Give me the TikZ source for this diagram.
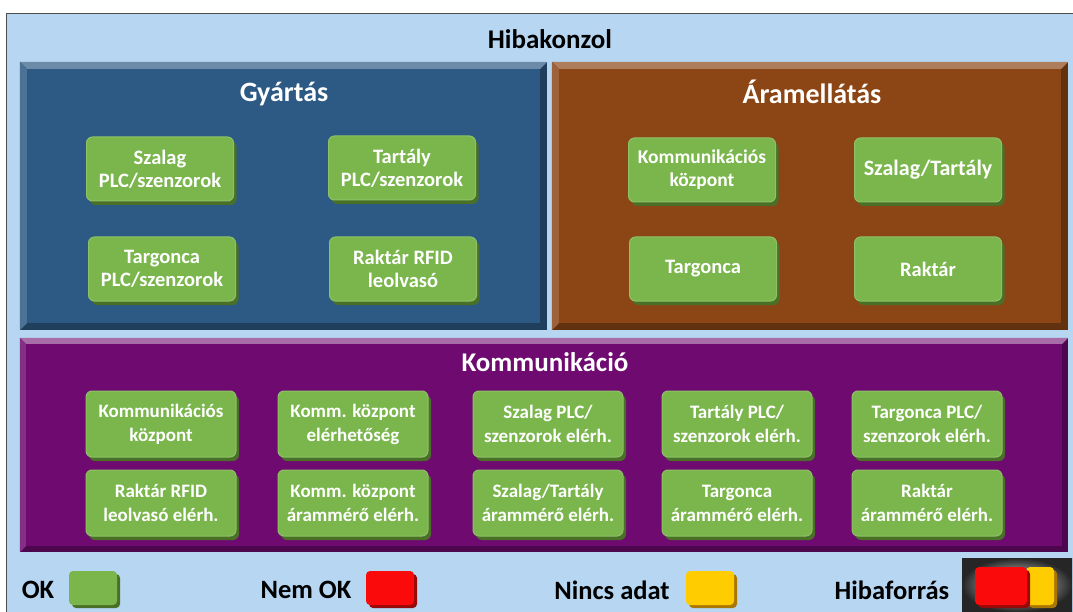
\documentclass[tikz,border=0pt]{standalone}
\usepackage{fontspec}
\setmainfont{Carlito}
\usetikzlibrary{shadows}
\definecolor{bgblue}{RGB}{182,214,242}
\definecolor{panblue}{RGB}{44,90,132}
\definecolor{panbrown}{RGB}{140,70,22}
\definecolor{panpurple}{RGB}{110,10,112}
\definecolor{okgreen}{RGB}{122,182,76}
\definecolor{okshadow}{RGB}{74,112,40}
\definecolor{nokred}{RGB}{250,10,10}
\definecolor{redshadow}{RGB}{150,10,10}
\definecolor{noyellow}{RGB}{255,204,0}
\definecolor{yelshadow}{RGB}{170,120,0}
\tikzset{
  panel/.style={draw=none, rectangle, inner sep=0pt},
  ptitle/.style={text=white, font=\bfseries\fontsize{28}{32}\selectfont},
  gbox/.style={rectangle, rounded corners=6pt, fill=okgreen, draw=okgreen!85!white, line width=1pt,
    minimum width=147pt, minimum height=64pt, align=center, text=white, inner sep=1pt,
    font=\bfseries\fontsize{20.5}{23}\selectfont,
    drop shadow={shadow xshift=3pt, shadow yshift=-4pt, fill=okshadow, opacity=1}},
  lsq/.style={rectangle, rounded corners=4pt, minimum width=48pt, minimum height=34pt, inner sep=0pt},
  ltext/.style={font=\bfseries\fontsize{26.5}{30}\selectfont, text=black},
}
\begin{document}
\begin{tikzpicture}[x=1pt,y=-1pt]
\useasboundingbox (0,0) rectangle (1073,612);
\fill[white] (0,0) rectangle (1073,612);
% outer
\node[panel, fill=bgblue, draw=black!70, line width=1pt, minimum width=1072pt, minimum height=600pt] (outer) at (542,314) {};
\node[font=\bfseries\fontsize{27}{30}\selectfont] (title) at (550,39) {Hibakonzol};
% panels
\node[panel, fill=panblue!70!black, minimum width=527pt, minimum height=268pt] (gy) at (283.5,196) {};
\fill[panblue!70!white] (gy.north west) -- (gy.north east) -- ([shift={(-7,7)}]gy.north east) -- ([shift={(7,7)}]gy.north west) -- cycle;
\fill[panblue!85!white] (gy.north west) -- ([shift={(7,7)}]gy.north west) -- ([shift={(7,-7)}]gy.south west) -- (gy.south west) -- cycle;
\fill[panblue] ([shift={(7,7)}]gy.north west) rectangle ([shift={(-7,-7)}]gy.south east);
\node[ptitle] (gyt) at (284,94) {Gyártás};

\node[panel, fill=panbrown!70!black, minimum width=516pt, minimum height=268pt] (ar) at (810,196) {};
\fill[panbrown!70!white] (ar.north west) -- (ar.north east) -- ([shift={(-7,7)}]ar.north east) -- ([shift={(7,7)}]ar.north west) -- cycle;
\fill[panbrown!85!white] (ar.north west) -- ([shift={(7,7)}]ar.north west) -- ([shift={(7,-7)}]ar.south west) -- (ar.south west) -- cycle;
\fill[panbrown] ([shift={(7,7)}]ar.north west) rectangle ([shift={(-7,-7)}]ar.south east);
\node[ptitle] (art) at (812,92) {Áramellátás};

\node[panel, fill=panpurple!70!black, minimum width=1048pt, minimum height=214pt] (ko) at (544,445) {};
\fill[panpurple!60!white] (ko.north west) -- (ko.north east) -- ([shift={(-6,6)}]ko.north east) -- ([shift={(6,6)}]ko.north west) -- cycle;
\fill[panpurple!85!white] (ko.north west) -- ([shift={(6,6)}]ko.north west) -- ([shift={(6,-6)}]ko.south west) -- (ko.south west) -- cycle;
\fill[panpurple] ([shift={(6,6)}]ko.north west) rectangle ([shift={(-6,-6)}]ko.south east);
\node[ptitle, font=\bfseries\fontsize{27}{30}\selectfont] (kot) at (545,362) {Kommunikáció};

% Gyartas boxes
\node[gbox] (g1) at (160,169) {Szalag\\PLC/szenzorok};
\node[gbox] (g2) at (402,168) {Tartály\\PLC/szenzorok};
\node[gbox] (g3) at (162,269) {Targonca\\PLC/szenzorok};
\node[gbox] (g4) at (403,269) {Raktár RFID\\leolvasó};
% Aramellatas boxes
\node[gbox, font=\bfseries\fontsize{19.5}{23}\selectfont] (a1) at (702,170) {Kommunikációs\\központ};
\node[gbox, font=\bfseries\fontsize{22}{25}\selectfont] (a2) at (928,170) {Szalag/Tartály};
\node[gbox] (a3) at (703,269) {Targonca};
\node[gbox] (a4) at (928,269) {Raktár};
% Kommunikacio boxes
\tikzset{kbox/.style={gbox, minimum width=150pt, minimum height=66pt, font=\bfseries\fontsize{19}{24}\selectfont}}
\node[kbox] (k1) at (161,424) {Kommunikációs\\központ};
\node[kbox] (k2) at (353,424) {Komm. központ\\elérhetőség};
\node[kbox] (k3) at (548,424) {Szalag PLC/\\szenzorok elérh.};
\node[kbox] (k4) at (737,424) {Tartály PLC/\\szenzorok elérh.};
\node[kbox] (k5) at (927,424) {Targonca PLC/\\szenzorok elérh.};
\node[kbox] (k6) at (161,503) {Raktár RFID\\leolvasó elérh.};
\node[kbox] (k7) at (353,503) {Komm. központ\\árammérő elérh.};
\node[kbox] (k8) at (548,503) {Szalag/Tartály\\árammérő elérh.};
\node[kbox] (k9) at (737,503) {Targonca\\árammérő elérh.};
\node[kbox] (k10) at (927,503) {Raktár\\árammérő elérh.};

% legend
\node[ltext] (lok) at (38,590) {OK};
\node[lsq, fill=okgreen, drop shadow={shadow xshift=3pt, shadow yshift=-3pt, fill=okshadow, opacity=1}] (sok) at (93,588) {};
\node[ltext] (lnok) at (306,590) {Nem OK};
\node[lsq, fill=nokred, drop shadow={shadow xshift=3pt, shadow yshift=-3pt, fill=redshadow, opacity=1}] (snok) at (390,588) {};
\node[ltext] (lna) at (612,590) {Nincs adat};
\node[lsq, fill=noyellow, drop shadow={shadow xshift=3pt, shadow yshift=-3pt, fill=yelshadow, opacity=1}] (sna) at (710,588) {};
\node[ltext] (lhf) at (892,590) {Hibaforrás};
\node[panel, minimum width=110pt, minimum height=54pt, inner color=white!85!gray, outer color=black!85] (hfimg) at (1017,585) {};
\node[lsq, minimum width=28pt, minimum height=38pt, fill=noyellow, drop shadow={shadow xshift=3pt, shadow yshift=-3pt, fill=yelshadow, opacity=1}] (hfy) at (1040,586) {};
\node[lsq, minimum width=52pt, minimum height=38pt, fill=nokred, drop shadow={shadow xshift=3pt, shadow yshift=-3pt, fill=redshadow, opacity=1}] (hfr) at (1001,586) {};
\end{tikzpicture}
\end{document}
